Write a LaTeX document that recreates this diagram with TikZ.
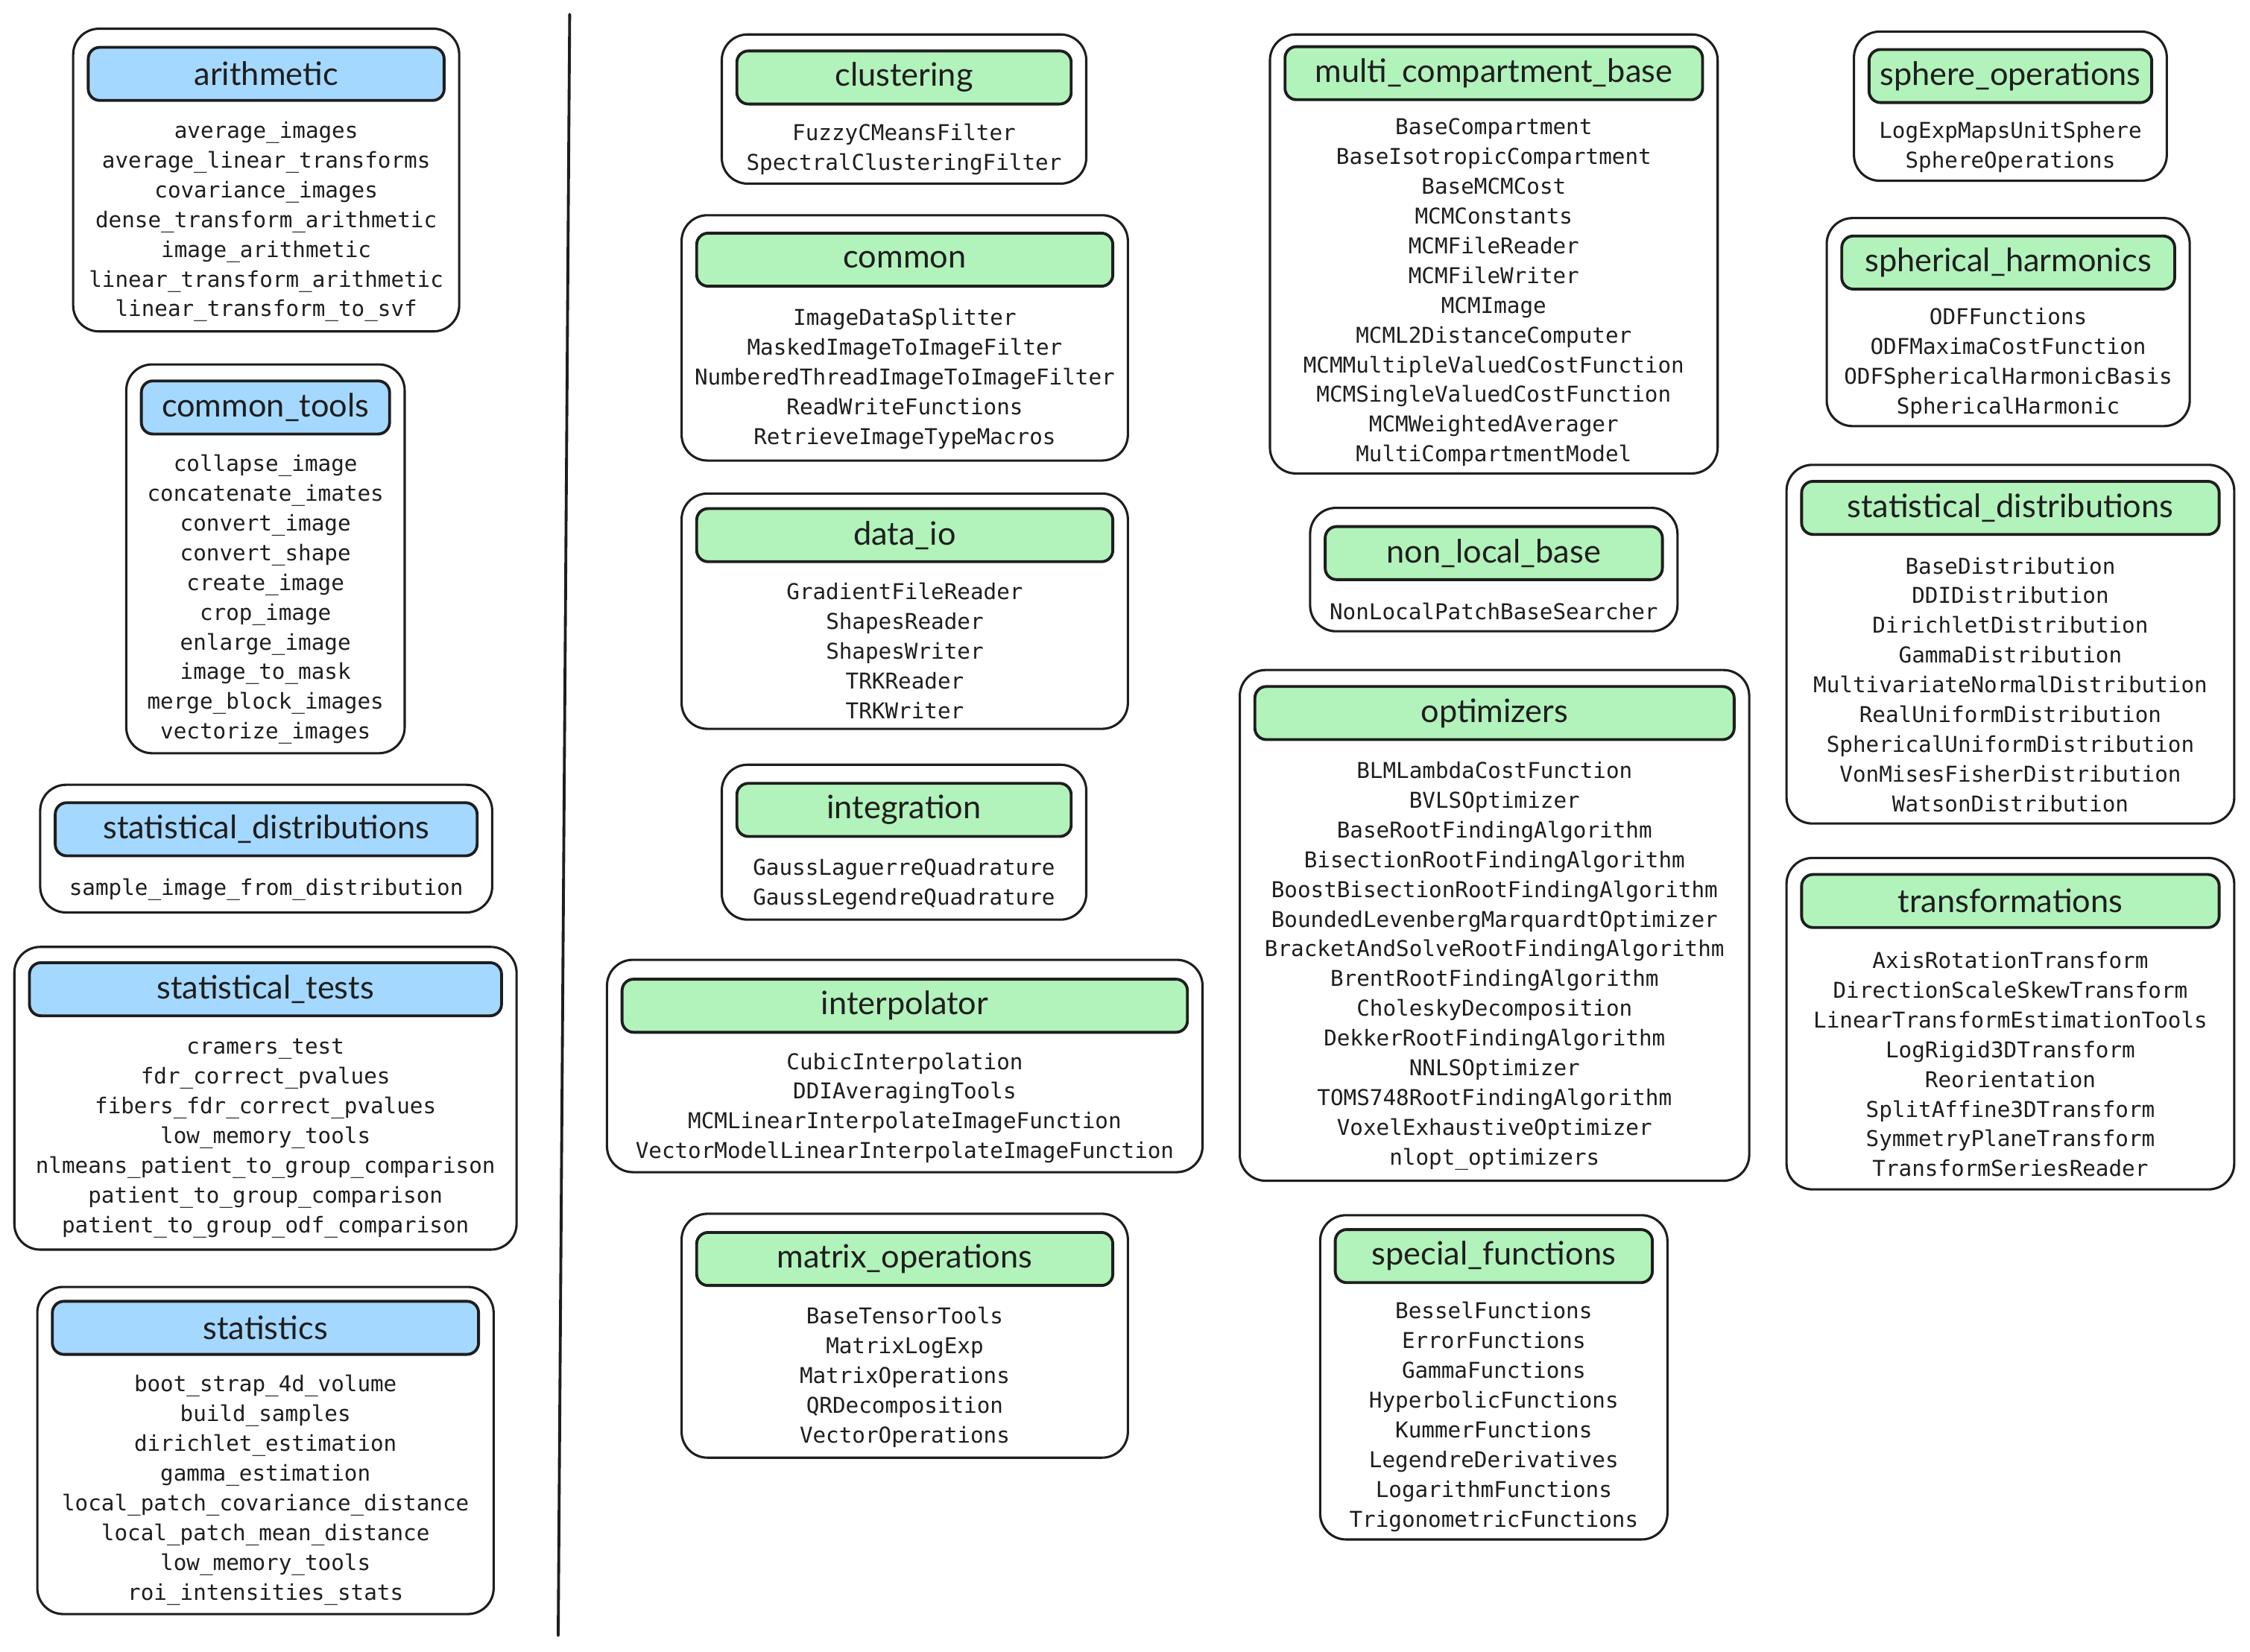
\documentclass[tikz,border=0pt]{standalone}
\usepackage{fontspec}
\setmainfont{Lato}
\newfontfamily\itemfam{DejaVu Sans Mono}
\newfontfamily\titlefam{Lato}
\definecolor{ink}{HTML}{1E1E1E}
\definecolor{hblue}{HTML}{A5D8FF}
\definecolor{hgreen}{HTML}{B2F2BB}
\tikzset{
  outerbox/.style={draw=ink, line width=1.6pt, rounded corners=18pt, fill=white, inner sep=0pt},
  hdrbox/.style={draw=ink, line width=2pt, rounded corners=8pt, minimum height=37pt, inner sep=0pt,
    text=ink, font=\titlefam\fontsize{22.5}{25}\selectfont},
  itembox/.style={align=center, inner sep=0pt, text=ink, font=\itemfam\fontsize{15.2}{20.75}\selectfont},
  sepline/.style={draw=ink, line width=2pt, line cap=round}
}
\newcommand\pkgbox[9]{%
  \pgfmathsetmacro\PBw{#5-#3}\pgfmathsetmacro\PBh{#6-#4}%
  \pgfmathsetmacro\PBcx{(#3+#5)/2}\pgfmathsetmacro\PBcy{(#4+#6)/2}%
  \pgfmathsetmacro\PBhw{#5-#3-21}%
  \pgfmathsetmacro\PBiy{((#7+18.5)+#6)/2+4}%
  \node[outerbox, minimum width=\PBw pt, minimum height=\PBh pt] (#1) at (\PBcx,\PBcy) {};
  \node[hdrbox, fill=#2, minimum width=\PBhw pt] (#1-h) at (\PBcx,#7) {#8};
  \node[itembox] (#1-i) at (\PBcx,\PBiy) {#9};
}
\begin{document}
\begin{tikzpicture}[x=1pt,y=-1pt]
\useasboundingbox (0,0) rectangle (1568,1151);
\fill[white] (0,0) rectangle (1568,1151);
% left column
\pkgbox{arith}{hblue}{51}{20}{320}{231}{51.5}{arithmetic}{average\_images\\average\_linear\_transforms\\covariance\_images\\dense\_transform\_arithmetic\\image\_arithmetic\\linear\_transform\_arithmetic\\linear\_transform\_to\_svf}
\pkgbox{ctools}{hblue}{88}{254}{282}{525}{284}{common\_tools}{collapse\_image\\concatenate\_imates\\convert\_image\\convert\_shape\\create\_image\\crop\_image\\enlarge\_image\\image\_to\_mask\\merge\_block\_images\\vectorize\_images}
\pkgbox{sdistA}{hblue}{28}{547}{343}{636}{578}{statistical\_distributions}{sample\_image\_from\_distribution}
\pkgbox{stests}{hblue}{10}{660}{360}{871}{689.5}{statistical\_tests}{cramers\_test\\fdr\_correct\_pvalues\\fibers\_fdr\_correct\_pvalues\\low\_memory\_tools\\nlmeans\_patient\_to\_group\_comparison\\patient\_to\_group\_comparison\\patient\_to\_group\_odf\_comparison}
\pkgbox{stats}{hblue}{26}{897}{344}{1125}{925.5}{statistics}{boot\_strap\_4d\_volume\\build\_samples\\dirichlet\_estimation\\gamma\_estimation\\local\_patch\_covariance\_distance\\local\_patch\_mean\_distance\\low\_memory\_tools\\roi\_intensities\_stats}
% separator
\coordinate (sepT) at (397,10);
\coordinate (sepB) at (389,1140);
\draw[sepline] (sepT) -- (sepB);
% second column
\pkgbox{clust}{hgreen}{503}{24}{757}{128}{54}{clustering}{FuzzyCMeansFilter\\SpectralClusteringFilter}
\pkgbox{common}{hgreen}{475}{150}{786}{321}{181}{common}{ImageDataSplitter\\MaskedImageToImageFilter\\NumberedThreadImageToImageFilter\\ReadWriteFunctions\\RetrieveImageTypeMacros}
\pkgbox{dataio}{hgreen}{475}{344}{786}{508}{373}{data\_io}{GradientFileReader\\ShapesReader\\ShapesWriter\\TRKReader\\TRKWriter}
\pkgbox{integ}{hgreen}{503}{533}{757}{641}{564.5}{integration}{GaussLaguerreQuadrature\\GaussLegendreQuadrature}
\pkgbox{interp}{hgreen}{423}{669}{838}{817}{701}{interpolator}{CubicInterpolation\\DDIAveragingTools\\MCMLinearInterpolateImageFunction\\VectorModelLinearInterpolateImageFunction}
\pkgbox{matops}{hgreen}{475}{846}{786}{1016}{877.5}{matrix\_operations}{BaseTensorTools\\MatrixLogExp\\MatrixOperations\\QRDecomposition\\VectorOperations}
% third column
\pkgbox{mcm}{hgreen}{885}{24}{1197}{330}{51}{multi\_compartment\_base}{BaseCompartment\\BaseIsotropicCompartment\\BaseMCMCost\\MCMConstants\\MCMFileReader\\MCMFileWriter\\MCMImage\\MCML2DistanceComputer\\MCMMultipleValuedCostFunction\\MCMSingleValuedCostFunction\\MCMWeightedAverager\\MultiCompartmentModel}
\pkgbox{nlb}{hgreen}{913}{354}{1169}{440}{385.5}{non\_local\_base}{NonLocalPatchBaseSearcher}
\pkgbox{opt}{hgreen}{864}{467}{1219}{823}{497}{optimizers}{BLMLambdaCostFunction\\BVLSOptimizer\\BaseRootFindingAlgorithm\\BisectionRootFindingAlgorithm\\BoostBisectionRootFindingAlgorithm\\BoundedLevenbergMarquardtOptimizer\\BracketAndSolveRootFindingAlgorithm\\BrentRootFindingAlgorithm\\CholeskyDecomposition\\DekkerRootFindingAlgorithm\\NNLSOptimizer\\TOMS748RootFindingAlgorithm\\VoxelExhaustiveOptimizer\\nlopt\_optimizers}
\pkgbox{spec}{hgreen}{920}{847}{1162}{1073}{875.5}{special\_functions}{BesselFunctions\\ErrorFunctions\\GammaFunctions\\HyperbolicFunctions\\KummerFunctions\\LegendreDerivatives\\LogarithmFunctions\\TrigonometricFunctions}
% fourth column
\pkgbox{sphop}{hgreen}{1292}{22}{1510}{126}{53}{sphere\_operations}{LogExpMapsUnitSphere\\SphereOperations}
\pkgbox{sphh}{hgreen}{1273}{152}{1526}{297}{183}{spherical\_harmonics}{ODFFunctions\\ODFMaximaCostFunction\\ODFSphericalHarmonicBasis\\SphericalHarmonic}
\pkgbox{sdistB}{hgreen}{1245}{324}{1557}{574}{354}{statistical\_distributions}{BaseDistribution\\DDIDistribution\\DirichletDistribution\\GammaDistribution\\MultivariateNormalDistribution\\RealUniformDistribution\\SphericalUniformDistribution\\VonMisesFisherDistribution\\WatsonDistribution}
\pkgbox{trans}{hgreen}{1245}{598}{1557}{829}{628}{transformations}{AxisRotationTransform\\DirectionScaleSkewTransform\\LinearTransformEstimationTools\\LogRigid3DTransform\\Reorientation\\SplitAffine3DTransform\\SymmetryPlaneTransform\\TransformSeriesReader}
\end{tikzpicture}
\end{document}
